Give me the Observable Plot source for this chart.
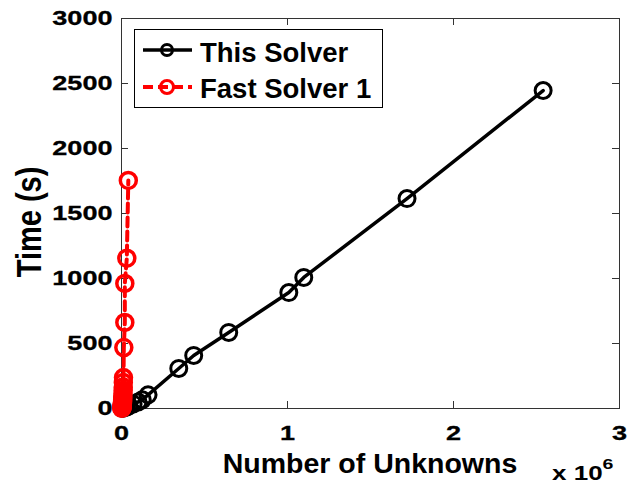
<!DOCTYPE html>
<html>
<head>
<meta charset="utf-8">
<script src="https://cdn.jsdelivr.net/npm/d3@7"></script>
<script src="https://cdn.jsdelivr.net/npm/@observablehq/plot@0.6"></script>
<style>
  html, body { margin: 0; padding: 0; background: #fff; }
  #chart { width: 634px; height: 484px; }
</style>
</head>
<body>
<div id="chart"></div>
<script>
// ---- data ----
const seriesNames = ["This Solver", "Fast Solver 1"];
const seriesColors = ["#000000", "#ff0000"];
const thisSolverN = [5000, 10000, 20000, 30000, 45000, 70000, 100000, 125000, 160000, 345000, 435000, 646000, 1008000, 1098000, 1720000, 2540000];
const thisSolverT = [1, 3, 8, 12, 20, 35, 50, 68, 105, 308, 408, 585, 892, 1008, 1615, 2446];
const fastSolverN = [2000, 2500, 3000, 3500, 4000, 4500, 5000, 5500, 6000, 6500, 7000, 7500, 8000, 9000, 10000, 10500, 11000, 12000, 14000, 20000, 20000, 32000, 41000];
const fastSolverT = [2, 5, 8, 12, 17, 23, 30, 38, 47, 57, 68, 80, 95, 115, 140, 165, 200, 238, 469, 662, 962, 1156, 1754];
const xTicks = [0, 1e6, 2e6, 3e6];
const xTickLabels = ["0", "1", "2", "3"];
const yTicks = [0, 500, 1000, 1500, 2000, 2500, 3000];
const xLabel = "Number of Unknowns";
const yLabel = "Time (s)";

const thisSolver = thisSolverN.map((n, i) => ({n, t: thisSolverT[i]}));
const fastSolver = fastSolverN.map((n, i) => ({n, t: fastSolverT[i]}));

const W = 634, H = 484;
const mL = 121, mR = 15, mT = 18, mB = 76;
const plotW = W - mL - mR, plotH = H - mT - mB;
const tickLen = 7;

const svg = Plot.plot({
  width: W, height: H,
  marginLeft: mL, marginRight: mR, marginTop: mT, marginBottom: mB,
  style: {fontFamily: "'Liberation Sans', Arial, Helvetica, sans-serif", fontWeight: "bold", fontSize: "20px", color: "#000", background: "#fff"},
  x: {domain: [0, 3e6]},
  y: {domain: [0, 3000]},
  marks: [
    Plot.axisX({ticks: xTicks, tickFormat: d => xTickLabels[xTicks.indexOf(d)], tickSize: 0, tickPadding: 17, label: null, fontSize: 20.5, fontWeight: "bold"}),
    Plot.axisY({ticks: yTicks, tickFormat: d => String(d), tickSize: 0, tickPadding: 9, label: null, fontSize: 20.5, fontWeight: "bold"}),
    Plot.tickX(xTicks, {x: d => d, insetTop: plotH - tickLen, stroke: "#333"}),
    Plot.tickX(xTicks, {x: d => d, insetBottom: plotH - tickLen, stroke: "#333"}),
    Plot.tickY(yTicks, {y: d => d, insetRight: plotW - tickLen, stroke: "#333"}),
    Plot.tickY(yTicks, {y: d => d, insetLeft: plotW - tickLen, stroke: "#333"}),
    Plot.frame({stroke: "#333", strokeWidth: 1}),
    Plot.line(thisSolver, {x: "n", y: "t", stroke: seriesColors[0], strokeWidth: 3.5}),
    Plot.dot(thisSolver, {x: "n", y: "t", r: 8, stroke: seriesColors[0], strokeWidth: 3, fill: "none"}),
    Plot.line(fastSolver, {x: "n", y: "t", stroke: seriesColors[1], strokeWidth: 4, strokeDasharray: "9,5"}),
    Plot.dot(fastSolver, {x: "n", y: "t", r: 8, stroke: seriesColors[1], strokeWidth: 3.5, fill: "none"})
  ]
});

// widen tick labels horizontally (reference glyphs are stretched)
svg.querySelectorAll('g[aria-label$="tick label"] text').forEach(t => {
  const tr = t.getAttribute("transform") || "";
  t.setAttribute("transform", tr + " scale(1.32,1)");
  t.setAttribute("stroke", "#000");
  t.setAttribute("stroke-width", "0.3");
});

const s = d3.select(svg);
const font = "'Liberation Sans', Arial, Helvetica, sans-serif";

// axis labels
s.append("text").attr("x", mL + plotW / 2).attr("y", 473)
  .attr("text-anchor", "middle").attr("font-family", font).attr("font-weight", "bold")
  .attr("font-size", 28.5).attr("fill", "#000").text(xLabel);
s.append("text").attr("transform", "translate(41,222) scale(1.2,1) rotate(-90)")
  .attr("text-anchor", "middle").attr("font-family", font).attr("font-weight", "bold")
  .attr("font-size", 29).attr("fill", "#000").text(yLabel);

// exponent multiplier
const ex = s.append("text").attr("transform", "translate(552,480) scale(1.3,1)")
  .attr("text-anchor", "start")
  .attr("font-family", font).attr("font-weight", "bold").attr("font-size", 20).attr("fill", "#000");
ex.append("tspan").text("x 10");
ex.append("tspan").attr("dy", -11).attr("font-size", 15).text("6");

// legend
const lg = s.append("g").attr("text-anchor", "start");
lg.append("rect").attr("x", 134.5).attr("y", 29.5).attr("width", 248).attr("height", 78)
  .attr("fill", "#fff").attr("stroke", "#000").attr("stroke-width", 1);
const rowsY = [50, 87];
const baseY = [62, 98];
seriesNames.forEach((name, i) => {
  const y = rowsY[i];
  lg.append("line").attr("x1", 143).attr("x2", 192).attr("y1", y).attr("y2", y)
    .attr("stroke", seriesColors[i]).attr("stroke-width", i ? 4 : 3.5)
    .attr("stroke-dasharray", i ? "10,5" : null);
  lg.append("circle").attr("cx", 167).attr("cy", y).attr("r", i ? 6.5 : 5.5)
    .attr("fill", "none").attr("stroke", seriesColors[i]).attr("stroke-width", 3);
  lg.append("text").attr("x", 200).attr("y", baseY[i]).attr("text-anchor", "start")
    .attr("font-family", font)
    .attr("font-weight", "bold").attr("font-size", 27.5).attr("fill", "#000").text(name);
});

document.getElementById("chart").appendChild(svg);
</script>
</body>
</html>
